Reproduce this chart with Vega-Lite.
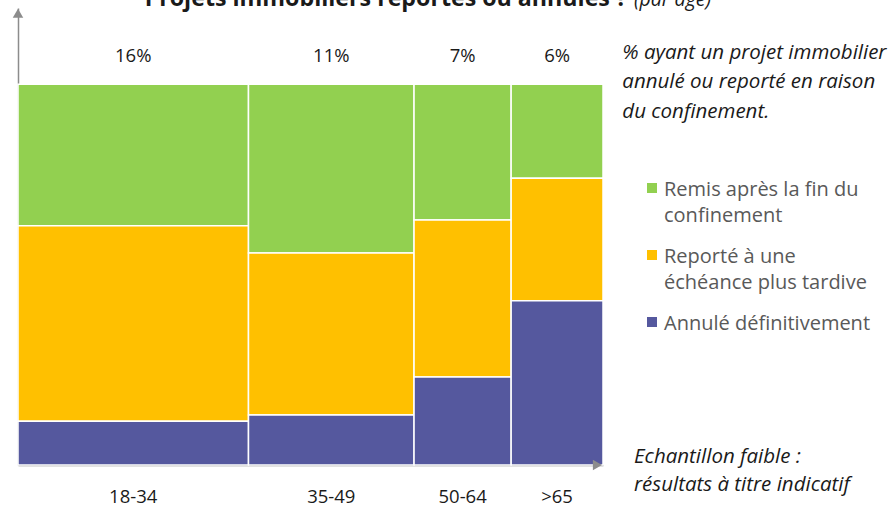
{
  "$schema": "https://vega.github.io/schema/vega-lite/v6.json",
  "width": 585,
  "height": 457,
  "autosize": {"type": "none"},
  "padding": {"left": 18, "top": 8, "right": 293, "bottom": 42},
  "background": "white",
  "config": {
    "view": {"stroke": null},
    "font": "Open Sans",
    "style": {"guide-label": {"lineHeight": 26, "dy": -8}},
    "axis": {"domainColor": "#8c8c8c", "domainWidth": 1.5, "ticks": false, "labels": false, "grid": false, "title": null}
  },
  "datasets": {
    "cells": [
      {"age": "18-34", "cat": "Remis après la fin du confinement", "x0": 0, "x1": 39.4, "y0": 62.8, "y1": 100},
      {"age": "18-34", "cat": "Reporté à une échéance plus tardive", "x0": 0, "x1": 39.4, "y0": 11.5, "y1": 62.8},
      {"age": "18-34", "cat": "Annulé définitivement", "x0": 0, "x1": 39.4, "y0": 0, "y1": 11.5},
      {"age": "35-49", "cat": "Remis après la fin du confinement", "x0": 39.4, "x1": 67.7, "y0": 55.7, "y1": 100},
      {"age": "35-49", "cat": "Reporté à une échéance plus tardive", "x0": 39.4, "x1": 67.7, "y0": 13.1, "y1": 55.7},
      {"age": "35-49", "cat": "Annulé définitivement", "x0": 39.4, "x1": 67.7, "y0": 0, "y1": 13.1},
      {"age": "50-64", "cat": "Remis après la fin du confinement", "x0": 67.7, "x1": 84.3, "y0": 64.3, "y1": 100},
      {"age": "50-64", "cat": "Reporté à une échéance plus tardive", "x0": 67.7, "x1": 84.3, "y0": 23.1, "y1": 64.3},
      {"age": "50-64", "cat": "Annulé définitivement", "x0": 67.7, "x1": 84.3, "y0": 0, "y1": 23.1},
      {"age": ">65", "cat": "Remis après la fin du confinement", "x0": 84.3, "x1": 100, "y0": 75.3, "y1": 100},
      {"age": ">65", "cat": "Reporté à une échéance plus tardive", "x0": 84.3, "x1": 100, "y0": 43.1, "y1": 75.3},
      {"age": ">65", "cat": "Annulé définitivement", "x0": 84.3, "x1": 100, "y0": 0, "y1": 43.1}
    ],
    "cols": [
      {"age": "18-34", "pct": "16%", "x0": 0, "x1": 39.4},
      {"age": "35-49", "pct": "11%", "x0": 39.4, "x1": 67.7},
      {"age": "50-64", "pct": "7%", "x0": 67.7, "x1": 84.3},
      {"age": ">65", "pct": "6%", "x0": 84.3, "x1": 100}
    ]
  },
  "layer": [
    {
      "data": {"name": "cells"},
      "mark": {"type": "rect", "stroke": "white", "strokeWidth": 1.5},
      "encoding": {
        "x": {"field": "x0", "type": "quantitative", "scale": {"domain": [0, 100], "nice": false, "zero": false}, "axis": {"domain": true}},
        "x2": {"field": "x1"},
        "y": {"field": "y0", "type": "quantitative", "scale": {"domain": [0, 120], "nice": false}, "axis": {"domain": true}},
        "y2": {"field": "y1"},
        "color": {
          "field": "cat",
          "type": "nominal",
          "scale": {
            "domain": ["Remis après la fin du confinement", "Reporté à une échéance plus tardive", "Annulé définitivement"],
            "range": ["#92D050", "#FFC000", "#55589E"]
          },
          "legend": {
            "title": null,
            "orient": "none",
            "legendX": 624,
            "legendY": 170,
            "symbolType": "square",
            "symbolSize": 100,
            "symbolStrokeWidth": 0,
            "labelFontSize": 20,
            "labelColor": "#595959",
            "labelBaseline": "top",
            "labelOffset": 2,
            "labelLimit": 300,
            "rowPadding": 19,
            "labelExpr": "datum.label == 'Remis après la fin du confinement' ? ['Remis après la fin du', 'confinement'] : datum.label == 'Reporté à une échéance plus tardive' ? ['Reporté à une', 'échéance plus tardive'] : datum.label"
          }
        }
      }
    },
    {
      "data": {"name": "cols"},
      "transform": [{"calculate": "(datum.x0 + datum.x1) / 2", "as": "xm"}],
      "mark": {"type": "text", "fontSize": 18.5, "color": "#1a1a1a", "baseline": "alphabetic"},
      "encoding": {
        "x": {"field": "xm", "type": "quantitative"},
        "y": {"datum": 105.8, "type": "quantitative"},
        "text": {"field": "pct"}
      }
    },
    {
      "data": {"name": "cols"},
      "transform": [{"calculate": "(datum.x0 + datum.x1) / 2", "as": "xm"}],
      "mark": {"type": "text", "fontSize": 18.5, "color": "#1a1a1a", "baseline": "alphabetic"},
      "encoding": {
        "x": {"field": "xm", "type": "quantitative"},
        "y": {"datum": -10, "type": "quantitative"},
        "text": {"field": "age"}
      }
    },
    {
      "data": {"values": [{}]},
      "mark": {"type": "point", "shape": "triangle-up", "filled": true, "color": "#8c8c8c", "size": 110, "opacity": 1},
      "encoding": {
        "x": {"datum": 0, "type": "quantitative"},
        "y": {"datum": 118.6, "type": "quantitative"}
      }
    },
    {
      "data": {"values": [{}]},
      "mark": {"type": "point", "shape": "triangle-right", "filled": true, "color": "#8c8c8c", "size": 110, "opacity": 1},
      "encoding": {
        "x": {"datum": 99.05, "type": "quantitative"},
        "y": {"datum": 0, "type": "quantitative"}
      }
    },
    {
      "data": {"values": [{}]},
      "mark": {"type": "text", "align": "right", "baseline": "alphabetic", "fontSize": 23.2, "fontWeight": "bold", "color": "#1a1a1a", "text": "Projets immobiliers reportés ou annulés ?"},
      "encoding": {
        "x": {"datum": 104.1, "type": "quantitative"},
        "y": {"datum": 120.4, "type": "quantitative"}
      }
    },
    {
      "data": {"values": [{}]},
      "mark": {"type": "text", "align": "left", "baseline": "alphabetic", "fontSize": 19.5, "fontStyle": "italic", "color": "#1a1a1a", "text": "(par âge)"},
      "encoding": {
        "x": {"datum": 105.3, "type": "quantitative"},
        "y": {"datum": 120.4, "type": "quantitative"}
      }
    },
    {
      "data": {"values": [{}]},
      "mark": {"type": "text", "align": "left", "baseline": "alphabetic", "fontSize": 20.5, "fontStyle": "italic", "color": "#1a1a1a", "lineHeight": 29.5, "text": ["% ayant un projet immobilier", "annulé ou reporté en raison", "du confinement."]},
      "encoding": {
        "x": {"datum": 103.3, "type": "quantitative"},
        "y": {"datum": 106.7, "type": "quantitative"}
      }
    },
    {
      "data": {"values": [{}]},
      "mark": {"type": "text", "align": "left", "baseline": "alphabetic", "fontSize": 20.5, "fontStyle": "italic", "color": "#1a1a1a", "lineHeight": 28, "text": ["Echantillon  faible :", "résultats à titre indicatif"]},
      "encoding": {
        "x": {"datum": 105.3, "type": "quantitative"},
        "y": {"datum": 0.4, "type": "quantitative"}
      }
    }
  ]
}
